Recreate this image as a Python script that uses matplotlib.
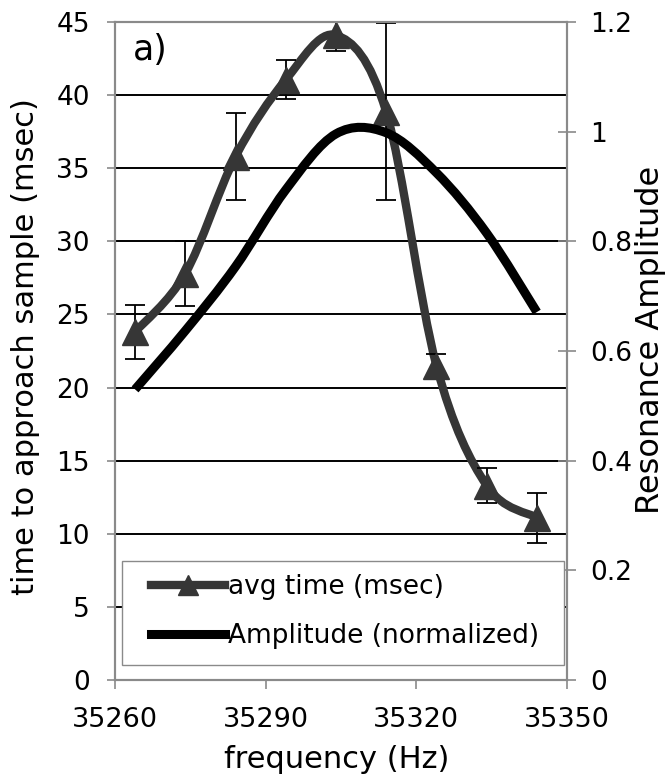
import matplotlib
matplotlib.use("Agg")
import matplotlib.pyplot as plt
import numpy as np
from matplotlib.lines import Line2D
from matplotlib.patches import PathPatch, Rectangle
from matplotlib.path import Path

plt.rcParams["font.family"] = ["DejaVu Sans"]

freq = [35264, 35274, 35284, 35294, 35304, 35314, 35324, 35334, 35344]
avg_time = [23.8, 27.8, 35.8, 41.05, 44.1, 38.85, 21.5, 13.3, 11.1]
time_err = [1.85, 2.2, 3.0, 1.35, 1.1, 6.05, 0.8, 1.2, 1.7]
amplitude = [0.53, 0.637, 0.754, 0.894, 0.996, 0.998, 0.925, 0.815, 0.671]

x_ticks = [35260, 35290, 35320, 35350]
left_ticks = list(range(0, 50, 5))
right_ticks = [0, 0.2, 0.4, 0.6, 0.8, 1.0, 1.2]
right_labels = ["0", "0.2", "0.4", "0.6", "0.8", "1", "1.2"]

GRAY = "#363636"
SPINE = "#8a8a8a"
W, H = 672, 783


def smooth_path(xs, ys):
    # excel-style smoothed line: cubic bezier through every point
    pts = np.column_stack([xs, ys]).astype(float)
    n = len(pts)
    verts = [pts[0]]
    codes = [Path.MOVETO]
    for i in range(n - 1):
        p0 = pts[max(i - 1, 0)]
        p1 = pts[i]
        p2 = pts[i + 1]
        p3 = pts[min(i + 2, n - 1)]
        verts += [p1 + (p2 - p0) / 6, p2 - (p3 - p1) / 6, p2]
        codes += [Path.CURVE4] * 3
    return Path(verts, codes)


fig = plt.figure(figsize=(W / 100, H / 100), dpi=100)
ax = fig.add_axes([115 / W, 1 - 680 / H, 452 / W, 658 / H])
ax2 = ax.twinx()

ax.set_xlim(35260, 35350)
ax.set_ylim(0, 45)
ax2.set_ylim(0, 1.2)

ax.yaxis.grid(True, color="black", lw=1.4)
ax.set_axisbelow(True)

ax.add_patch(PathPatch(smooth_path(freq, avg_time), fill=False, edgecolor=GRAY,
                       lw=6, capstyle="butt", zorder=3, transform=ax.transData))
ax.errorbar(freq, avg_time, yerr=time_err, fmt="none", ecolor="black",
            elinewidth=1.3, capsize=7, capthick=1.3, zorder=4)
ax.plot(freq, avg_time, ls="none", marker="^", ms=19, color=GRAY, zorder=5)

ax2.add_patch(PathPatch(smooth_path(freq, amplitude), fill=False, edgecolor="black",
                        lw=6.5, capstyle="butt", zorder=3, transform=ax2.transData))

ax.set_xticks(x_ticks)
ax.set_yticks(left_ticks)
ax2.set_yticks(right_ticks)
ax2.set_yticklabels(right_labels)

for a in (ax, ax2):
    for s in a.spines.values():
        s.set_color(SPINE)
        s.set_linewidth(1.5)
ax.tick_params(axis="y", direction="out", length=6, width=1.2, color=SPINE,
               labelsize=19, pad=12)
ax.tick_params(axis="x", direction="out", length=6.5, width=1.2, color=SPINE,
               labelsize=19.5, pad=13)
ax2.tick_params(axis="y", direction="inout", length=13, width=1.2, color=SPINE,
                labelsize=19, pad=10)

fig.text(337 / W, 1 - 760 / H, "frequency (Hz)", fontsize=22, ha="center", va="center")
fig.text(26 / W, 1 - 347 / H, "time to approach sample (msec)", fontsize=22,
         rotation=90, ha="center", va="center")
fig.text(651 / W, 1 - 340 / H, "Resonance Amplitude", fontsize=23,
         rotation=90, ha="center", va="center")

ax.text(0.04, 0.957, "a)", transform=ax.transAxes, fontsize=25, va="center", ha="left")

# legend box drawn by hand so it can sit exactly like the excel one
ax2.add_patch(Rectangle((0.0155, 0.0228), 0.978, 0.158, transform=ax2.transAxes,
                        facecolor="white", edgecolor=SPINE, lw=1.0, zorder=8))
handles = [
    Line2D([], [], color=GRAY, lw=6, marker="^", ms=14),
    Line2D([], [], color="black", lw=6.5),
]
leg = ax2.legend(handles, ["avg time (msec)", "Amplitude (normalized)"],
                 loc="center left", bbox_to_anchor=(0.080, 0.104),
                 fontsize=19, frameon=False, handlelength=2.8,
                 handletextpad=0.1, labelspacing=0.85, borderpad=0,
                 borderaxespad=0, numpoints=1)
leg.set_zorder(10)

fig.savefig("out.png", dpi=100)
